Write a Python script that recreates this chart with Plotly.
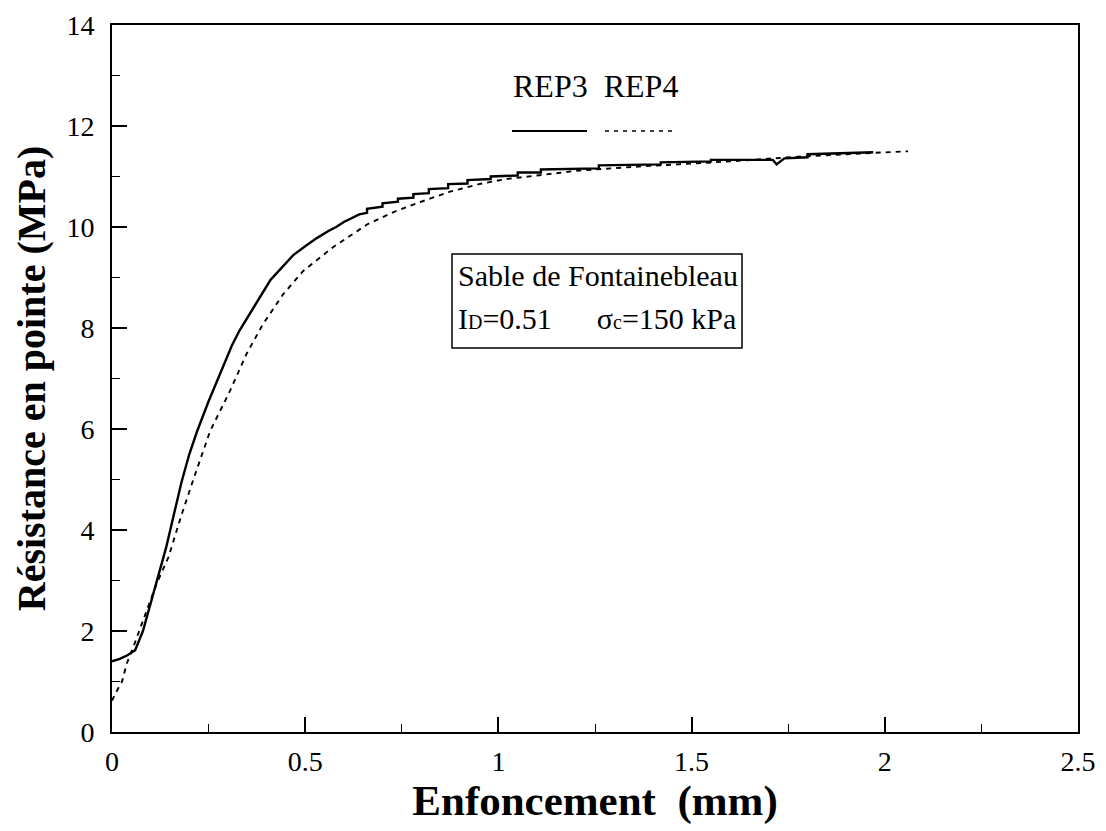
import plotly.graph_objects as go

# REP3 (solid) — penetration (mm) vs tip resistance (MPa)
rep3_x = [0.00, 0.02, 0.04, 0.06, 0.08, 0.10, 0.12, 0.14, 0.16, 0.18, 0.20, 0.22, 0.25, 0.28,
          0.31, 0.33, 0.35, 0.38, 0.41, 0.44, 0.47, 0.50, 0.53, 0.56, 0.58, 0.60, 0.62, 0.64,
          0.66, 0.66, 0.70, 0.70, 0.74, 0.74, 0.78, 0.78, 0.82, 0.82, 0.87, 0.87, 0.92, 0.92,
          0.98, 0.98, 1.05, 1.05, 1.11, 1.11, 1.26, 1.26, 1.42, 1.42, 1.55, 1.55, 1.71, 1.72,
          1.74, 1.80, 1.80, 1.97]
rep3_y = [1.40, 1.45, 1.52, 1.62, 2.00, 2.55, 3.10, 3.65, 4.30, 4.95, 5.50, 5.95, 6.55, 7.10,
          7.65, 7.95, 8.20, 8.55, 8.95, 9.20, 9.45, 9.62, 9.78, 9.92, 10.00, 10.10, 10.18, 10.25,
          10.28, 10.36, 10.40, 10.47, 10.50, 10.56, 10.58, 10.65, 10.67, 10.75, 10.77, 10.85,
          10.86, 10.93, 10.95, 11.00, 11.02, 11.08, 11.08, 11.14, 11.16, 11.22, 11.24, 11.28,
          11.30, 11.33, 11.33, 11.24, 11.36, 11.38, 11.44, 11.48]

# REP4 (dashed)
rep4_x = [0.00, 0.01, 0.026, 0.038, 0.055, 0.08, 0.098, 0.115, 0.146, 0.18, 0.215, 0.254, 0.305,
          0.349, 0.391, 0.443, 0.495, 0.572, 0.66, 0.73, 0.80, 0.875, 0.95, 1.02, 1.10, 1.21,
          1.37, 1.60, 1.79, 1.95, 2.06]
rep4_y = [0.62, 0.78, 1.00, 1.35, 1.68, 2.20, 2.60, 2.93, 3.46, 4.30, 5.10, 5.96, 6.75, 7.50,
          8.08, 8.67, 9.13, 9.60, 10.05, 10.30, 10.50, 10.70, 10.85, 10.95, 11.02, 11.12, 11.20,
          11.30, 11.40, 11.46, 11.50]

x_ticks = [0, 0.5, 1, 1.5, 2, 2.5]
x_tick_labels = ["0", "0.5", "1", "1.5", "2", "2.5"]
y_ticks = [0, 2, 4, 6, 8, 10, 12, 14]
y_tick_labels = ["0", "2", "4", "6", "8", "10", "12", "14"]

FONT = "Liberation Serif, Times New Roman, serif"

# page body has an 8px margin: compensate so the plot box lands at 112..1078 x 25..732
PX0, PX1, PY0, PY1 = 112, 1078, 25, 732
SHIFT = 4  # vertical shift applied to the reference pixel positions
def px(x):
    return (x - PX0) / (PX1 - PX0)
def py(y):
    return (PY1 - (y + SHIFT)) / (PY1 - PY0)

fig = go.Figure()
fig.add_trace(go.Scatter(x=rep3_x, y=rep3_y, mode="lines", name="REP3",
                         line=dict(color="black", width=2.4), showlegend=False))
fig.add_trace(go.Scatter(x=rep4_x, y=rep4_y, mode="lines", name="REP4",
                         line=dict(color="black", width=1.9, dash="5px,5px"), showlegend=False))

fig.update_layout(
    width=1098, height=823,
    margin=dict(l=104, r=28, t=17, b=99),
    paper_bgcolor="white", plot_bgcolor="white",
    font=dict(family=FONT, color="black", size=26),
)

fig.update_xaxes(
    range=[0, 2.5], tickvals=x_ticks, ticktext=x_tick_labels,
    showline=True, linecolor="black", linewidth=2, mirror=True,
    ticks="inside", ticklen=15, tickwidth=1.5, tickcolor="black",
    minor=dict(ticks="inside", ticklen=8, dtick=0.25, tickwidth=1.2, tickcolor="black"),
    showgrid=False, zeroline=False, automargin=False,
    tickfont=dict(family=FONT, size=28),
    ticklabelstandoff=3, ticklabeloverflow="allow",
    title=dict(text="<b>Enfoncement  (mm)</b>", font=dict(family=FONT, size=43), standoff=0),
)
fig.update_yaxes(
    range=[0, 14], tickvals=y_ticks, ticktext=y_tick_labels,
    showline=True, linecolor="black", linewidth=2, mirror=True,
    ticks="inside", ticklen=15, tickwidth=1.5, tickcolor="black",
    minor=dict(ticks="inside", ticklen=8, dtick=1, tickwidth=1.2, tickcolor="black"),
    showgrid=False, zeroline=False, automargin=False,
    tickfont=dict(family=FONT, size=28),
    ticklabelstandoff=10, ticklabeloverflow="allow",
    title=dict(text="<b>Résistance en pointe (MPa)</b>", font=dict(family=FONT, size=40), standoff=8),
)

# Legend: text above sample lines
fig.add_annotation(xref="paper", yref="paper", x=px(595), y=py(82),
                   text="REP3  REP4", showarrow=False, xanchor="center", yanchor="middle",
                   font=dict(family=FONT, size=32))
fig.add_shape(type="line", xref="paper", yref="paper",
              x0=px(512), x1=px(587), y0=py(127), y1=py(127),
              line=dict(color="black", width=2))
fig.add_shape(type="line", xref="paper", yref="paper",
              x0=px(605), x1=px(673), y0=py(127), y1=py(127),
              line=dict(color="black", width=1.5, dash="4px,5px"))

# Info box
fig.add_shape(type="rect", xref="paper", yref="paper",
              x0=px(452), x1=px(742), y0=py(344), y1=py(250),
              line=dict(color="black", width=1.5), fillcolor="white")
fig.add_annotation(xref="paper", yref="paper", x=px(456), y=py(271),
                   text="Sable de Fontainebleau", showarrow=False, xanchor="left", yanchor="middle",
                   font=dict(family=FONT, size=30))
fig.add_annotation(xref="paper", yref="paper", x=px(456), y=py(314),
                   text="I<span style='font-size:20px'>D</span>=0.51      σ<span style='font-size:20px'>c</span>=150 kPa",
                   showarrow=False, xanchor="left", yanchor="middle",
                   font=dict(family=FONT, size=30))

fig.write_html("out.html")
